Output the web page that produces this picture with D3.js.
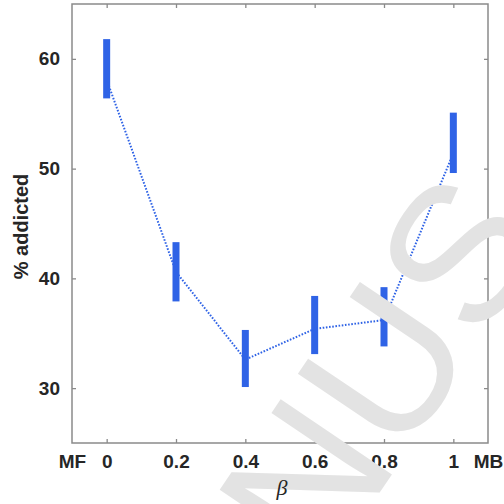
<!DOCTYPE html>
<html>
<head>
<meta charset="utf-8">
<script src="https://cdn.jsdelivr.net/npm/d3@7"></script>
<style>
  body { margin: 0; background: #fff; }
  svg text { font-family: "Liberation Sans", Arial, sans-serif; }
</style>
</head>
<body>
<div id="chart"></div>
<script>
// data
const betas = [0, 0.2, 0.4, 0.6, 0.8, 1]
const means = [58.1, 40.6, 32.6, 35.4, 36.2, 51.4]
const lows  = [56.4, 37.9, 30.1, 33.1, 33.8, 49.6]
const highs = [61.8, 43.3, 35.3, 38.4, 39.2, 55.1]

const xTickValues = [-0.1, 0, 0.2, 0.4, 0.6, 0.8, 1, 1.1]
const xTickLabels = ['MF', '0', '0.2', '0.4', '0.6', '0.8', '1', 'MB']
const yTickValues = [30, 40, 50, 60]

const W = 504, H = 504
const margin = { top: 4, right: 16, bottom: 61, left: 72 }
const width = W - margin.left - margin.right,
    height = H - margin.top - margin.bottom

const blue = '#2f63e6', axisGray = '#8a8a8a', textCol = '#262626'

const svg = d3.select('#chart').append('svg')
    .attr('width', W)
    .attr('height', H)

const g = svg.append('g')
    .attr('transform', 'translate(' + margin.left + ',' + margin.top + ')')

let x = d3.scaleLinear().domain([-0.1, 1.1]).range([0, width])
let y = d3.scaleLinear().domain([25, 65]).range([height, 0])

// bottom axis with MF / MB labels at the ends
g.append('g')
    .attr('transform', 'translate(0,' + height + ')')
    .call(d3.axisBottom(x).tickValues(xTickValues).tickSize(-4).tickPadding(11.5)
        .tickFormat((d, i) => xTickLabels[i]))
    .call(ax => {
        ax.select('.domain').remove()
        ax.selectAll('.tick').filter(d => d < 0 || d > 1).select('line').remove()
    })

g.append('g')
    .call(d3.axisTop(x).tickValues(betas).tickSize(-4).tickFormat(''))
    .call(ax => ax.select('.domain').remove())

g.append('g')
    .call(d3.axisLeft(y).tickValues(yTickValues).tickSize(-4).tickPadding(12))
    .call(ax => ax.select('.domain').remove())

g.append('g')
    .attr('transform', 'translate(' + width + ',0)')
    .call(d3.axisRight(y).tickValues(yTickValues).tickSize(-4).tickFormat(''))
    .call(ax => ax.select('.domain').remove())

g.selectAll('.tick line').attr('stroke', axisGray).attr('stroke-width', 1.3)
g.selectAll('.tick text')
    .attr('font-size', 19).attr('font-weight', 'bold').attr('fill', textCol)

// frame
g.append('rect')
    .attr('width', width).attr('height', height)
    .attr('fill', 'none').attr('stroke', axisGray).attr('stroke-width', 1.5)

// error bars
g.selectAll('.bar').data(betas).enter().append('rect')
    .attr('class', 'bar')
    .attr('x', d => x(d) - 3.5)
    .attr('width', 7)
    .attr('y', (d, i) => y(highs[i]))
    .attr('height', (d, i) => y(lows[i]) - y(highs[i]))
    .attr('fill', blue)

// dotted mean line
g.append('path')
    .datum(betas.map((b, i) => [b, means[i]]))
    .attr('fill', 'none')
    .attr('stroke', blue)
    .attr('stroke-width', 2)
    .attr('stroke-dasharray', '1.6,1.6')
    .attr('d', d3.line().x(d => x(d[0])).y(d => y(d[1])))

// axis titles
svg.append('text')
    .attr('transform', 'translate(28,' + (margin.top + y(45) + 3) + ') rotate(-90)')
    .attr('text-anchor', 'middle')
    .attr('font-size', 20).attr('font-weight', 'bold').attr('fill', textCol)
    .text('% addicted')

// watermark
svg.append('text')
    .attr('transform', 'translate(322,578) rotate(-56)')
    .attr('font-size', 195)
    .attr('fill', '#e3e3e3')
    .text('NUS')

svg.append('text')
    .attr('x', 282).attr('y', 495)
    .attr('text-anchor', 'middle')
    .attr('font-size', 22).attr('font-style', 'italic').attr('fill', textCol)
    .style('font-family', '"Liberation Serif", "DejaVu Serif", serif')
    .text('β')
</script>
</body>
</html>
